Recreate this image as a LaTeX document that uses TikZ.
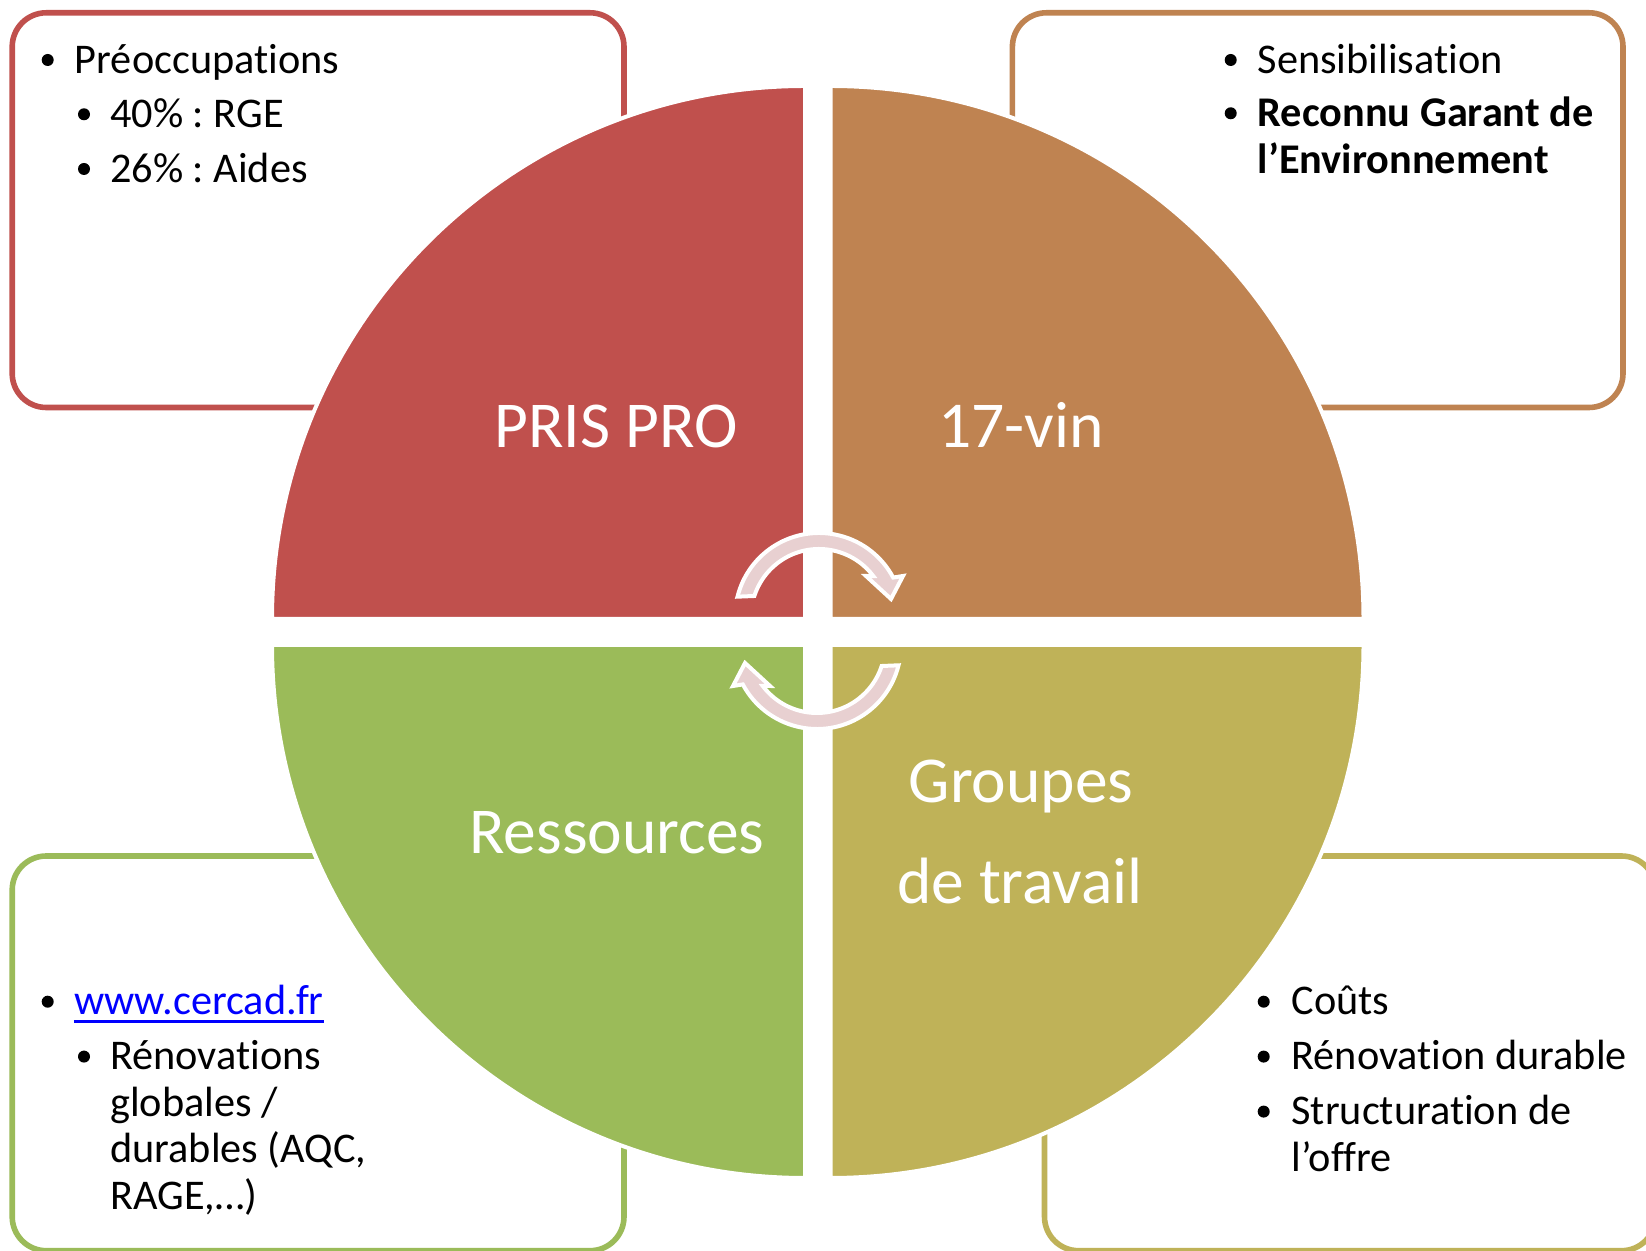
\documentclass[tikz,border=0pt]{standalone}
\usepackage{fontspec}
\setmainfont{Carlito}[Ligatures=NoCommon]
\usetikzlibrary{calc}
\definecolor{cred}{HTML}{C0504D}
\definecolor{cbrown}{HTML}{BF8351}
\definecolor{colive}{HTML}{BFB258}
\definecolor{cgreen}{HTML}{9BBB59}
\definecolor{cpink}{HTML}{E8D0D1}
\definecolor{clink}{HTML}{0000FF}
\frenchspacing
\begin{document}
\begin{tikzpicture}[x=1pt,y=1pt,
  quad/.style={draw=white, line width=4},
  frame/.style={line width=5.6, rounded corners=34, fill=white},
  body/.style={anchor=base west, inner sep=0, font=\fontsize{42.3}{47}\selectfont},
  big/.style={anchor=base, inner sep=0, text=white, font=\fontsize{65.5}{78}\selectfont},
  dot/.style={circle, fill=black, inner sep=0, minimum size=12},
  cyc/.style={fill=cpink, draw=white, line width=4, line join=miter}]
\useasboundingbox (0,0) rectangle (1646,1250);
\clip (0,0) rectangle (1646,1250);
\fill[white] (0,0) rectangle (1646,1250);

% text frames
\draw[frame, draw=cred]   (12.2,842.5) rectangle (624,1237.2);
\draw[frame, draw=cbrown] (1012.4,842.5) rectangle (1623,1237.2);
\draw[frame, draw=cgreen] (12.2,-0.7) rectangle (624,394);
\draw[frame, draw=colive] (1044.5,-0.7) rectangle (1655.5,394);

% pie quadrants
\draw[quad, fill=cred]   (805,631) -- (272,631) arc[start angle=180, end angle=90, radius=533] -- cycle;
\draw[quad, fill=cbrown] (830.5,631) -- (830.5,1164) arc[start angle=90, end angle=0, radius=533] -- cycle;
\draw[quad, fill=cgreen] (805,605) -- (272,605) arc[start angle=180, end angle=270, radius=533] -- cycle;
\draw[quad, fill=colive] (830.5,605) -- (1363.5,605) arc[start angle=0, end angle=-90, radius=533] -- cycle;

% circular arrows
\coordinate (C1) at (819,633);
\coordinate (C2) at (817,605);
\draw[cyc] ($(C1)+(166:84)$) arc[start angle=166, end angle=28, radius=84]
  -- (903,674) -- (891,651) -- (866,674)
  -- ($(C1)+(37:68)$) arc[start angle=37, end angle=162, radius=68] -- cycle;
\draw[cyc] ($(C2)+(346:84)$) arc[start angle=346, end angle=208, radius=84]
  -- (733,564) -- (745,587) -- (770,564)
  -- ($(C2)+(217:68)$) arc[start angle=217, end angle=342, radius=68] -- cycle;

% big labels
\node[big] (lpris) at (616,802) {PRIS PRO};
\node[big] (lvin) at (1021,802) {17-vin};
\node[big] (lres) at (617,396.7) {Ressources};
\node[big] (lgrp1) at (1021,447.3) {Groupes};
\node[big] (lgrp2) at (1020,346.7) {de travail};

% top-left text
\node[dot] (d1) at (47.7,1190) {};
\node[body] (t1) at (74.7,1176.7) {Préoccupations};
\node[dot] (d2) at (84,1135.7) {};
\node[body] (t2) at (110,1122.3) {40\% : RGE};
\node[dot] (d3) at (84,1081) {};
\node[body] (t3) at (110,1067.3) {26\% : Aides};

% top-right text
\node[dot] (d4) at (1230.7,1190) {};
\node[body] (t4) at (1257.5,1176.7) {Sensibilisation};
\node[dot] (d5) at (1230.7,1136.7) {};
\node[body, font=\fontsize{42.3}{47}\selectfont\bfseries] (t5) at (1257.5,1123.3) {Reconnu Garant de};
\node[body, font=\fontsize{42.3}{47}\selectfont\bfseries] (t6) at (1257.5,1076) {l’Environnement};

% bottom-left text
\node[dot] (d6) at (47.7,248.3) {};
\node[body, text=clink] (link) at (73.9,235) {www.cercad.fr};
\draw[clink, line width=2.6] ([yshift=-6.7pt]link.base west) -- ([yshift=-6.7pt]link.base east);
\node[dot] (d7) at (84,193.4) {};
\node[body] (t7) at (110,180) {Rénovations};
\node[body] (t8) at (110,133.3) {globales /};
\node[body] (t9) at (110,87.3) {durables (AQC,};
\node[body] (t10) at (110,40) {RAGE,…)};

% bottom-right text
\node[dot] (d8) at (1263.7,248.3) {};
\node[body] (t11) at (1291.3,235) {Coûts};
\node[dot] (d9) at (1263.7,193.4) {};
\node[body] (t12) at (1291.3,180) {Rénovation durable};
\node[dot] (d10) at (1263.7,138.4) {};
\node[body] (t13) at (1291.3,125) {Structuration de};
\node[body] (t14) at (1291.3,78.3) {l’offre};
\end{tikzpicture}
\end{document}
